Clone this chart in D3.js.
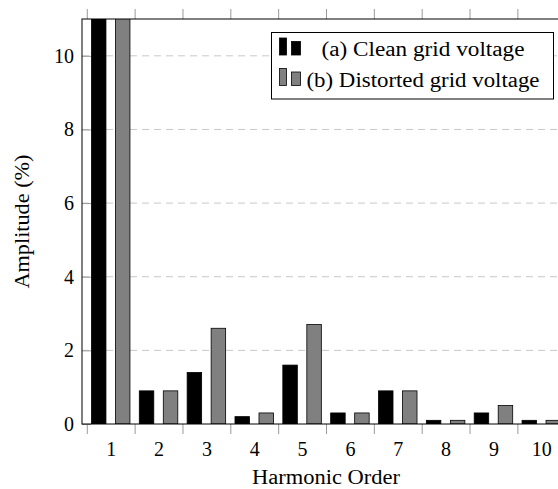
<!DOCTYPE html>
<html>
<head>
<meta charset="utf-8">
<script src="https://cdn.jsdelivr.net/npm/d3@7"></script>
<style>
  body { margin: 0; background: #fff; }
  svg { display: block; }
  svg text { font-family: "Liberation Serif", "DejaVu Serif", serif !important; fill: #000; }
</style>
</head>
<body>
<div id="chart"></div>
<script>
/* data */
var harmonics = [1, 2, 3, 4, 5, 6, 7, 8, 9, 10];
var clean = [100, 0.9, 1.4, 0.2, 1.6, 0.3, 0.9, 0.1, 0.3, 0.1];
var distorted = [100, 0.9, 2.6, 0.3, 2.7, 0.3, 0.9, 0.1, 0.5, 0.1];
var yTicks = [0, 2, 4, 6, 8, 10];
var seriesNames = ["(a) Clean grid voltage", "(b) Distorted grid voltage"];
var seriesColors = ["#000000", "#808080"];

/* size and style */
var width = 558, height = 489;
var plotL = 82, plotR = 570, plotT = 19, plotB = 424;
var fontSize = 20;
var barW = 14.5, barOff = 12;

var svg = d3.select("#chart").append("svg")
  .attr("width", width)
  .attr("height", height)
  .attr("font-family", "Liberation Serif");

var x = d3.scaleLinear().domain([0.4, 10.6]).range([plotL, plotR]);
var y = d3.scaleLinear().domain([0, 11]).range([plotB, plotT]);

svg.append("defs").append("clipPath").attr("id", "plot")
  .append("rect")
  .attr("x", plotL).attr("y", plotT)
  .attr("width", plotR - plotL).attr("height", plotB - plotT);

/* dashed grid lines */
svg.append("g")
  .selectAll("line")
  .data(yTicks.filter(function(d) { return d > 0; }))
  .join("line")
  .attr("x1", plotL).attr("x2", plotR)
  .attr("y1", function(d) { return y(d); })
  .attr("y2", function(d) { return y(d); })
  .style("stroke", "#c8c8c8")
  .style("stroke-width", 1)
  .style("stroke-dasharray", "7,5");

/* bars */
var series = [clean, distorted];
var bars = svg.append("g").attr("clip-path", "url(#plot)");
series.forEach(function(vals, s) {
  bars.selectAll(".s" + s)
    .data(vals)
    .join("rect")
    .attr("class", "s" + s)
    .attr("x", function(d, i) { return x(harmonics[i]) + (s === 0 ? -barOff : barOff) - barW / 2; })
    .attr("width", barW)
    .attr("y", function(d) { return y(d); })
    .attr("height", function(d) { return y(0) - y(d); })
    .style("fill", seriesColors[s])
    .style("stroke", "#000")
    .style("stroke-width", 0.8);
});

/* y axis, ticks pointing inward */
var yAxis = svg.append("g")
  .attr("transform", "translate(" + plotL + ",0)")
  .call(d3.axisLeft(y).tickValues(yTicks).tickSizeInner(-9).tickSizeOuter(0).tickPadding(8));
yAxis.attr("font-family", null);
yAxis.select(".domain").remove();
yAxis.selectAll(".tick line").style("stroke", "#999");
yAxis.selectAll("text").style("font-size", fontSize + "px");

/* bottom and top ticks between categories */
var sep = harmonics.map(function(h) { return h - 0.5; }).concat([10.5]);
var xTickB = svg.append("g")
  .attr("transform", "translate(0," + plotB + ")")
  .call(d3.axisBottom(x).tickValues(sep).tickSize(10).tickFormat(""));
xTickB.select(".domain").remove();
xTickB.selectAll(".tick line").style("stroke", "#999");

var xTickT = svg.append("g")
  .attr("transform", "translate(0," + plotT + ")")
  .call(d3.axisTop(x).tickValues(sep).tickSize(10).tickFormat(""));
xTickT.select(".domain").remove();
xTickT.selectAll(".tick line").style("stroke", "#999");

/* category labels */
var xLab = svg.append("g")
  .attr("transform", "translate(0," + plotB + ")")
  .call(d3.axisBottom(x).tickValues(harmonics).tickSize(0).tickPadding(18).tickFormat(d3.format("d")));
xLab.attr("font-family", null);
xLab.select(".domain").remove();
xLab.selectAll("text").style("font-size", fontSize + "px");

/* axis frame */
svg.append("rect")
  .attr("x", plotL).attr("y", plotT)
  .attr("width", plotR - plotL).attr("height", plotB - plotT)
  .style("fill", "none")
  .style("stroke", "#000")
  .style("stroke-width", 1);

/* axis titles */
svg.append("text")
  .attr("x", 326)
  .attr("y", 484)
  .attr("text-anchor", "middle")
  .attr("textLength", 148)
  .attr("lengthAdjust", "spacingAndGlyphs")
  .style("font-size", fontSize + "px")
  .text("Harmonic Order");

svg.append("text")
  .attr("transform", "translate(28.5," + ((plotT + plotB) / 2) + ") rotate(-90)")
  .attr("text-anchor", "middle")
  .attr("textLength", 134)
  .attr("lengthAdjust", "spacingAndGlyphs")
  .style("font-size", fontSize + "px")
  .text("Amplitude (%)");

/* legend */
var legendLen = [203, 233];
var lg = svg.append("g");
lg.append("rect")
  .attr("x", 271.5).attr("y", 32.5)
  .attr("width", 282).attr("height", 66.5)
  .style("fill", "#fff")
  .style("stroke", "#000")
  .style("stroke-width", 1);

seriesNames.forEach(function(name, i) {
  var base = 55 + i * 30.5;
  lg.append("rect")
    .attr("x", 279.5).attr("y", base - 17)
    .attr("width", 7).attr("height", 17)
    .style("fill", seriesColors[i]).style("stroke", "#000").style("stroke-width", 0.8);
  lg.append("rect")
    .attr("x", 291.5).attr("y", base - 13.5)
    .attr("width", 9).attr("height", 13.5)
    .style("fill", seriesColors[i]).style("stroke", "#000").style("stroke-width", 0.8);
  lg.append("text")
    .attr("x", 423)
    .attr("y", base + 1)
    .attr("text-anchor", "middle")
    .attr("textLength", legendLen[i])
    .attr("lengthAdjust", "spacingAndGlyphs")
    .style("font-size", fontSize + "px")
    .text(name);
});
</script>
</body>
</html>
